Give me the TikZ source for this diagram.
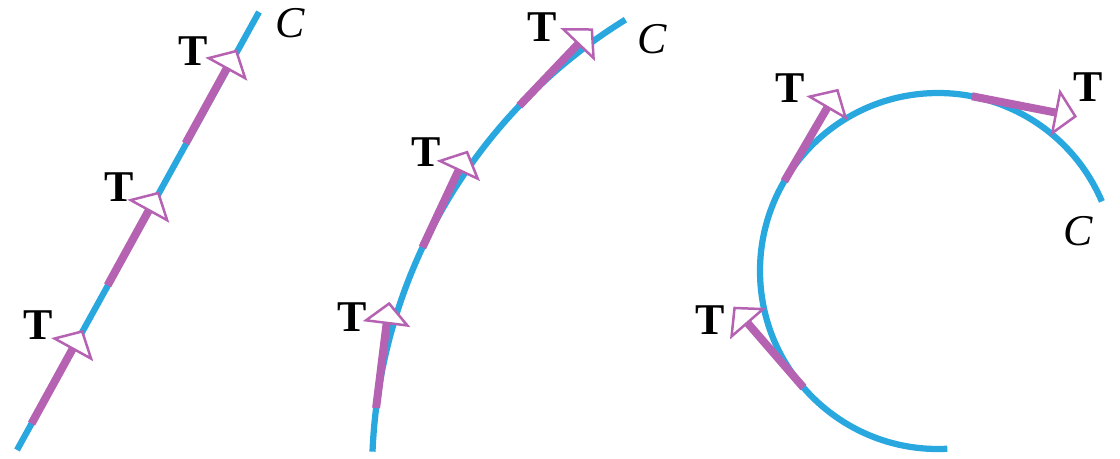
\documentclass[tikz,border=0pt]{standalone}
\usepackage{fontspec}
\setmainfont{Liberation Serif}
\usepackage{xcolor}
\usepackage{tikz}
\usetikzlibrary{arrows.meta}
\definecolor{curveblue}{RGB}{41,168,224}
\definecolor{tanpurple}{RGB}{181,98,178}
\tikzstyle{curve} = [line width=0.125cm, color=curveblue]
\tikzstyle{tangent} = [line width=0.16cm, color=tanpurple, -{Triangle[length=0.45cm, width=0.95cm, line width=0.05cm, fill=white]}]
\tikzstyle{vlabel} = [inner sep=0pt, font=\fontsize{25}{29}\selectfont\bfseries]
\tikzstyle{clabel} = [inner sep=0pt, font=\fontsize{25}{29}\selectfont\itshape]

\begin{document}
\begin{tikzpicture}[x=0.02cm, y=0.02cm]
    \useasboundingbox (0,0) rectangle (1120,458);

    % straight line
    \coordinate (l0) at (17,8);
    \coordinate (l1) at (259,446);
    \draw [curve] (l0) -- (l1);
    \coordinate (a1) at (31.5,34.3);
    \coordinate (a2) at (107.6,172.7);
    \coordinate (a3) at (185.6,314.7);
    \path (a1) ++(61.2:107) coordinate (a1t);
    \path (a2) ++(61.2:107) coordinate (a2t);
    \path (a3) ++(61.2:107) coordinate (a3t);
    \draw [tangent] (a1) -- (a1t);
    \draw [tangent] (a2) -- (a2t);
    \draw [tangent] (a3) -- (a3t);
    \node (ta1) [vlabel] at (38,133) {T};
    \node (ta2) [vlabel] at (119,271) {T};
    \node (ta3) [vlabel] at (193,407) {T};
    \node (ca) [clabel] at (290,435) {C};

    % big arc
    \coordinate (o2) at (906,-16);
    \draw [curve] (o2) ++(177.6:534) arc[start angle=177.6, end angle=121.7, radius=534];
    \path (o2) ++(172.9:534) coordinate (b1);
    \path (o2) ++(154.9:534) coordinate (b2);
    \path (o2) ++(136.4:534) coordinate (b3);
    \path (b1) ++(82.9:107) coordinate (b1t);
    \path (b2) ++(64.9:107) coordinate (b2t);
    \path (b3) ++(46.4:107) coordinate (b3t);
    \draw [tangent] (b1) -- (b1t);
    \draw [tangent] (b2) -- (b2t);
    \draw [tangent] (b3) -- (b3t);
    \node (tb1) [vlabel] at (352,141) {T};
    \node (tb2) [vlabel] at (426,306) {T};
    \node (tb3) [vlabel] at (542,431) {T};
    \node (cb) [clabel] at (652,419) {C};

    % circle
    \coordinate (o3) at (938,187);
    \draw [curve] (o3) ++(273:178) arc[start angle=273, end angle=23, radius=178];
    \path (o3) ++(220.9:178) coordinate (c1);
    \path (o3) ++(149.7:178) coordinate (c2);
    \path (o3) ++(79:178) coordinate (c3);
    \path (c1) ++(130.9:107) coordinate (c1t);
    \path (c2) ++(59.7:107) coordinate (c2t);
    \path (c3) ++(-11:107) coordinate (c3t);
    \draw [tangent] (c1) -- (c1t);
    \draw [tangent] (c2) -- (c2t);
    \draw [tangent] (c3) -- (c3t);
    \node (tc1) [vlabel] at (710,138) {T};
    \node (tc2) [vlabel] at (790,370) {T};
    \node (tc3) [vlabel] at (1088,371) {T};
    \node (cc) [clabel] at (1078,227) {C};
\end{tikzpicture}
\end{document}
